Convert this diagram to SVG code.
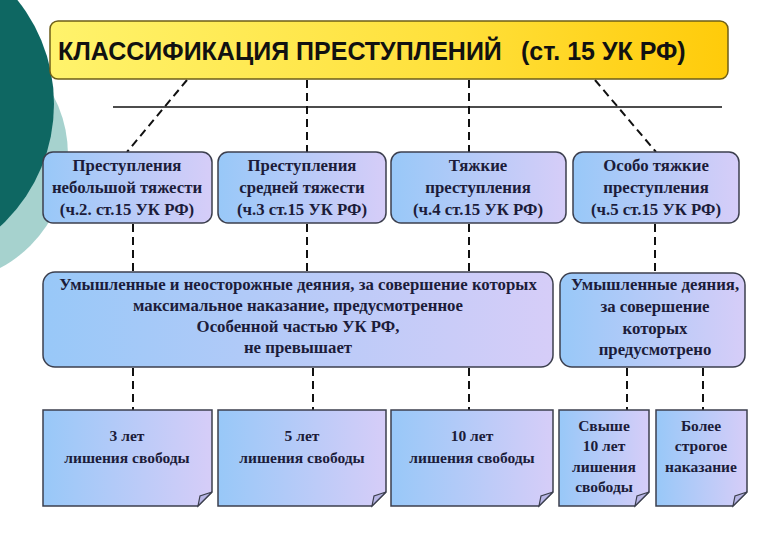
<svg xmlns="http://www.w3.org/2000/svg" width="774" height="541" viewBox="0 0 774 541">
<defs>
<linearGradient id="gy" x1="0" y1="0" x2="1" y2="0">
<stop offset="0" stop-color="#fff36c"/>
<stop offset="0.6" stop-color="#ffe03a"/>
<stop offset="1" stop-color="#ffcb0a"/>
</linearGradient>
<linearGradient id="gb" x1="0" y1="0" x2="1" y2="0">
<stop offset="0" stop-color="#98c8f8"/>
<stop offset="1" stop-color="#d6cdf8"/>
</linearGradient>
<style>
.t{font-family:"Liberation Serif","DejaVu Serif",serif;font-weight:bold;font-size:16.8px;fill:#1c1c3a;text-anchor:middle}
.s{font-size:15.5px}
.b{fill:url(#gb);stroke:#3c3f4e;stroke-width:1.5}
.f{fill:#b8b6e6;stroke:#3c3f4e;stroke-width:1.2}
.d{stroke:#111;stroke-width:2;stroke-dasharray:8 5;fill:none}
</style>
</defs>
<rect width="774" height="541" fill="#fff"/>
<circle cx="-60" cy="155" r="128" fill="#a6d2ce"/>
<circle cx="-112" cy="104" r="166" fill="#0e6762"/>

<g id="connectors">
<line x1="113" y1="107" x2="722" y2="107" stroke="#111" stroke-width="1.3"/>
<line class="d" x1="187" y1="80" x2="127" y2="152"/>
<line class="d" x1="307" y1="80" x2="307" y2="152"/>
<line class="d" x1="469" y1="80" x2="469" y2="152"/>
<line class="d" x1="595" y1="80" x2="656" y2="152"/>
<line class="d" x1="133" y1="224" x2="133" y2="272"/>
<line class="d" x1="307" y1="224" x2="307" y2="272"/>
<line class="d" x1="469" y1="224" x2="469" y2="272"/>
<line class="d" x1="655" y1="224" x2="655" y2="273"/>
<line class="d" x1="133" y1="368" x2="133" y2="410"/>
<line class="d" x1="313" y1="368" x2="313" y2="410"/>
<line class="d" x1="469" y1="368" x2="469" y2="410"/>
<line class="d" x1="627" y1="368" x2="627" y2="410"/>
<line class="d" x1="703" y1="368" x2="703" y2="410"/>
</g>

<g id="title">
<rect x="50" y="21" width="678" height="58" rx="8" fill="url(#gy)" stroke="#6e5e18" stroke-width="1.5"/>
<text y="60" font-family="Liberation Sans, Arial, sans-serif" font-weight="bold" font-size="25" fill="#111"><tspan x="58">КЛАССИФИКАЦИЯ ПРЕСТУПЛЕНИЙ</tspan><tspan x="521">(ст. 15 УК РФ)</tspan></text>
</g>

<g id="n1">
<rect class="b" x="43" y="152" width="169" height="71" rx="10"/>
<text class="t" x="127" y="171">Преступления</text>
<text class="t" x="127" y="193">небольшой тяжести</text>
<text class="t" x="127" y="215">(ч.2. ст.15 УК РФ)</text>
</g>
<g id="n2">
<rect class="b" x="218" y="152" width="168" height="71" rx="10"/>
<text class="t" x="302" y="171">Преступления</text>
<text class="t" x="302" y="193">средней тяжести</text>
<text class="t" x="302" y="215">(ч.3 ст.15 УК РФ)</text>
</g>
<g id="n3">
<rect class="b" x="391" y="152" width="175" height="71" rx="10"/>
<text class="t" x="478" y="171">Тяжкие</text>
<text class="t" x="478" y="193">преступления</text>
<text class="t" x="478" y="215">(ч.4 ст.15 УК РФ)</text>
</g>
<g id="n4">
<rect class="b" x="573" y="152" width="166" height="71" rx="10"/>
<text class="t" x="656" y="171">Особо тяжкие</text>
<text class="t" x="656" y="193">преступления</text>
<text class="t" x="656" y="215">(ч.5 ст.15 УК РФ)</text>
</g>

<g id="n5">
<rect class="b" x="43" y="272" width="510" height="95" rx="12"/>
<text class="t" x="298" y="290">Умышленные и неосторожные деяния, за совершение которых</text>
<text class="t" x="298" y="311">максимальное наказание, предусмотренное</text>
<text class="t" x="298" y="332">Особенной частью УК РФ,</text>
<text class="t" x="298" y="353">не превышает</text>
</g>
<g id="n6">
<rect class="b" x="560" y="273" width="185" height="94" rx="12"/>
<text class="t" x="655" y="290">Умышленные деяния,</text>
<text class="t" x="655" y="312">за совершение</text>
<text class="t" x="655" y="334">которых</text>
<text class="t" x="655" y="355">предусмотрено</text>
</g>

<g id="n7">
<path class="b" d="M43 410 H212 V492 L198 506 H43 Z"/>
<path class="f" d="M212 492 L198 506 L200 496 Z"/>
<text class="t s" x="127" y="441">3 лет</text>
<text class="t s" x="127" y="463">лишения свободы</text>
</g>
<g id="n8">
<path class="b" d="M218 410 H386 V492 L372 506 H218 Z"/>
<path class="f" d="M386 492 L372 506 L374 496 Z"/>
<text class="t s" x="302" y="441">5 лет</text>
<text class="t s" x="302" y="463">лишения свободы</text>
</g>
<g id="n9">
<path class="b" d="M391 410 H553 V492 L539 506 H391 Z"/>
<path class="f" d="M553 492 L539 506 L541 496 Z"/>
<text class="t s" x="472" y="441">10 лет</text>
<text class="t s" x="472" y="463">лишения свободы</text>
</g>
<g id="n10">
<path class="b" d="M559 410 H649 V492 L635 506 H559 Z"/>
<path class="f" d="M649 492 L635 506 L637 496 Z"/>
<text class="t s" x="604" y="431">Свыше</text>
<text class="t s" x="604" y="451">10 лет</text>
<text class="t s" x="604" y="472">лишения</text>
<text class="t s" x="604" y="492">свободы</text>
</g>
<g id="n11">
<path class="b" d="M656 410 H747 V492 L733 506 H656 Z"/>
<path class="f" d="M747 492 L733 506 L735 496 Z"/>
<text class="t s" x="701" y="431">Более</text>
<text class="t s" x="701" y="451">строгое</text>
<text class="t s" x="701" y="472">наказание</text>
</g>
</svg>
